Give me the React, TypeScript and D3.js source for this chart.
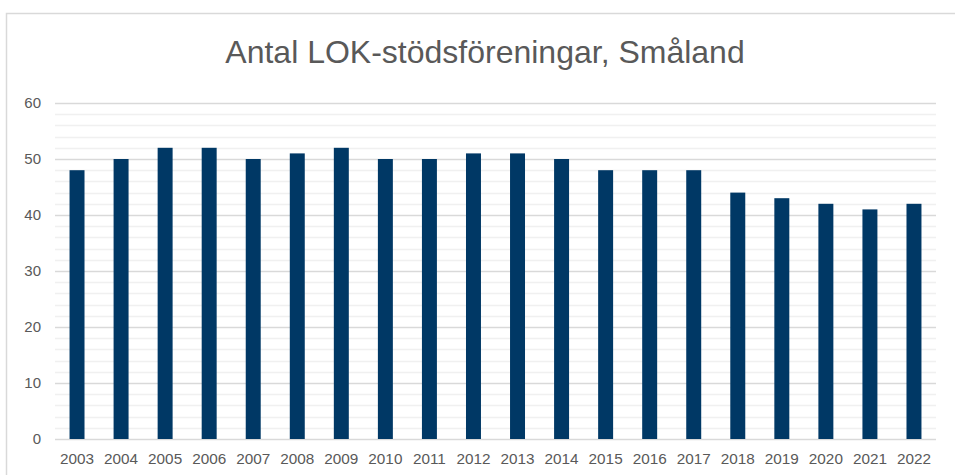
// @ts-nocheck
import React from "react";
import * as d3 from "d3";

const years = ["2003", "2004", "2005", "2006", "2007", "2008", "2009", "2010", "2011", "2012",
  "2013", "2014", "2015", "2016", "2017", "2018", "2019", "2020", "2021", "2022"];
const counts = [48, 50, 52, 52, 50, 51, 52, 50, 50, 51, 51, 50, 48, 48, 48, 44, 43, 42, 41, 42];
const yTicks = [0, 10, 20, 30, 40, 50, 60];
const title = "Antal LOK-stödsföreningar, Småland";

const W = 955;
const H = 475;
const margin = { left: 55, right: 19, top: 103, bottom: 36 };

const App = () => {
  const svgRef = React.useRef(null);

  React.useEffect(() => {
    const width = W - margin.left - margin.right;
    const height = H - margin.top - margin.bottom;
    const x = d3.scaleBand().domain(years).range([0, width]).paddingInner(0.66).paddingOuter(0.33);
    const y = d3.scaleLinear().domain([0, 60]).range([height, 0]);

    const svgEl = d3.select(svgRef.current);
    svgEl.selectAll("*").remove();

    svgEl.append("rect")
      .attr("x", 0).attr("y", 0).attr("width", W).attr("height", H)
      .attr("fill", "white");
    // chart frame
    svgEl.append("rect")
      .attr("x", 6.5).attr("y", 13.5).attr("width", W + 10).attr("height", H + 10)
      .attr("fill", "none").attr("stroke", "#d9d9d9").attr("stroke-width", 1.5);

    svgEl.append("text")
      .attr("x", 485).attr("y", 63)
      .attr("text-anchor", "middle")
      .attr("font-family", "Liberation Sans, Arial, sans-serif")
      .attr("font-size", 32)
      .attr("fill", "#595959")
      .text(title);

    const svg = svgEl.append("g").attr("transform", `translate(${margin.left},${margin.top})`);

    // minor gridlines
    const minor = d3.range(2, 60, 2).filter((v) => v % 10 !== 0);
    svg.selectAll(".minor").data(minor).enter().append("line")
      .attr("x1", 0).attr("x2", width)
      .attr("y1", (d) => Math.round(y(d)) + 0.5).attr("y2", (d) => Math.round(y(d)) + 0.5)
      .attr("stroke", "#f0f0f0").attr("stroke-width", 1.5);

    // major gridlines
    svg.selectAll(".major").data(yTicks).enter().append("line")
      .attr("x1", 0).attr("x2", width)
      .attr("y1", (d) => Math.round(y(d)) + 0.5).attr("y2", (d) => Math.round(y(d)) + 0.5)
      .attr("stroke", "#d9d9d9").attr("stroke-width", 1.5);

    svg.selectAll(".ylab").data(yTicks).enter().append("text")
      .attr("x", -14).attr("y", (d) => y(d)).attr("dy", "0.35em")
      .attr("text-anchor", "end")
      .attr("font-family", "Liberation Sans, Arial, sans-serif")
      .attr("font-size", 15).attr("fill", "#595959")
      .text((d) => d);

    svg.selectAll(".bar").data(counts).enter().append("rect")
      .attr("x", (d, i) => x(years[i]))
      .attr("y", (d) => y(d))
      .attr("width", x.bandwidth())
      .attr("height", (d) => y(0) - y(d))
      .attr("fill", "#003865");

    svg.selectAll(".xlab").data(years).enter().append("text")
      .attr("x", (d) => x(d) + x.bandwidth() / 2)
      .attr("y", height + 25)
      .attr("text-anchor", "middle")
      .attr("font-family", "Liberation Sans, Arial, sans-serif")
      .attr("font-size", 15.3).attr("fill", "#595959")
      .text((d) => d);
  }, []);

  return <svg ref={svgRef} width={W} height={H} style={{ position: "absolute", left: 0, top: 0 }} />;
};

export default App;
